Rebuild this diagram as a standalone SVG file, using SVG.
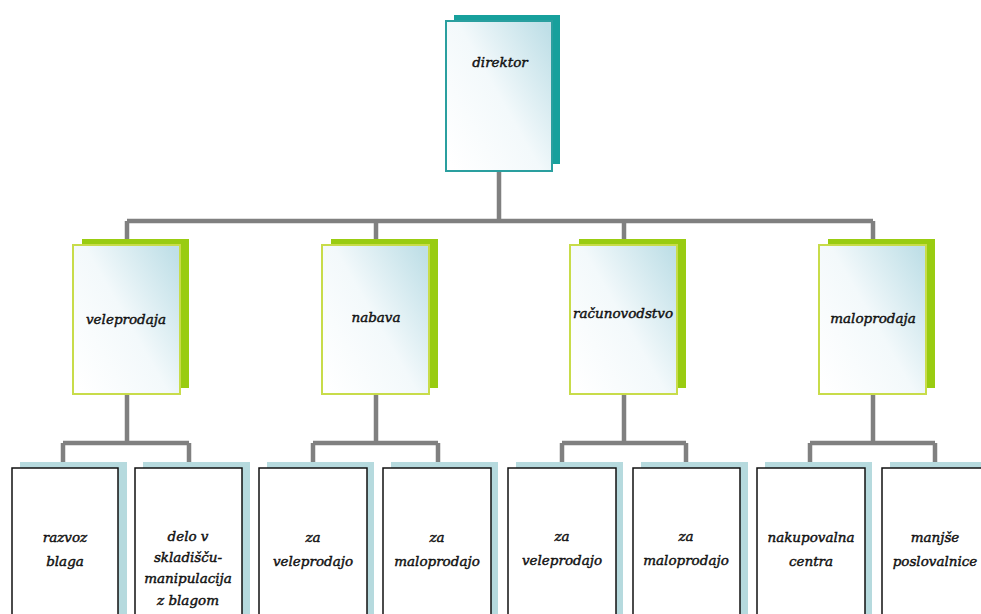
<svg xmlns="http://www.w3.org/2000/svg" width="981" height="614" viewBox="0 0 981 614">
<defs>
<linearGradient id="g" x1="0" y1="0.9" x2="1" y2="0.1">
<stop offset="0" stop-color="#ffffff"/>
<stop offset="0.5" stop-color="#f3f9fb"/>
<stop offset="1" stop-color="#bfdfe7"/>
</linearGradient>
</defs>
<style>
.t{font-family:'DejaVu Serif','Liberation Serif',serif;font-style:italic;font-size:13.5px;fill:#111111;text-anchor:middle;stroke:#111111;stroke-width:0.45}
.c{stroke:#808080;stroke-width:4.5;fill:none}
.ts{fill:#17a09c}
.tf{fill:url(#g);stroke:#2a9f9f;stroke-width:2}
.gs{fill:#99cc11}
.gf{fill:url(#g);stroke:#c8dc4a;stroke-width:2}
.ls{fill:#b6dade}
.lf{fill:#ffffff;stroke:#111111;stroke-width:1.5}
</style>
<rect width="981" height="614" fill="#ffffff"/>
<g id="connectors">
<path class="c" d="M499 170V221M127 221H873M127 221V245M376 221V245M624 221V245M873 221V245"/>
<path class="c" d="M127 393V443M63 443H189M63 443V464M189 443V464"/>
<path class="c" d="M376 393V443M313 443H438M313 443V464M438 443V464"/>
<path class="c" d="M624 393V443M562 443H686M562 443V464M686 443V464"/>
<path class="c" d="M873 393V443M810 443H935M810 443V464M935 443V464"/>
</g>
<g id="direktor">
<rect class="ts" x="454" y="15" width="106" height="149"/>
<rect class="tf" x="446" y="21" width="106" height="150"/>
<text class="t" x="500" y="67">direktor</text>
</g>
<g id="veleprodaja">
<rect class="gs" x="82" y="239" width="107" height="149"/>
<rect class="gf" x="73" y="245" width="107" height="149"/>
<text class="t" x="126" y="324">veleprodaja</text>
</g>
<g id="nabava">
<rect class="gs" x="331" y="239" width="107" height="149"/>
<rect class="gf" x="322" y="245" width="107" height="149"/>
<text class="t" x="376" y="322">nabava</text>
</g>
<g id="racunovodstvo">
<rect class="gs" x="579" y="239" width="107" height="149"/>
<rect class="gf" x="570" y="245" width="107" height="149"/>
<text class="t" x="623" y="318">računovodstvo</text>
</g>
<g id="maloprodaja">
<rect class="gs" x="828" y="239" width="107" height="149"/>
<rect class="gf" x="819" y="245" width="107" height="149"/>
<text class="t" x="873" y="323">maloprodaja</text>
</g>
<g id="razvoz">
<rect class="ls" x="20" y="462" width="107" height="160"/>
<rect class="lf" x="12" y="468" width="106" height="160"/>
<text class="t" x="65" y="542">razvoz</text>
<text class="t" x="65" y="566">blaga</text>
</g>
<g id="delo">
<rect class="ls" x="143" y="462" width="107" height="160"/>
<rect class="lf" x="135" y="468" width="107" height="160"/>
<text class="t" x="188" y="541">delo v</text>
<text class="t" x="188" y="562">skladišču-</text>
<text class="t" x="188" y="583">manipulacija</text>
<text class="t" x="188" y="605">z blagom</text>
</g>
<g id="nab-vele">
<rect class="ls" x="267" y="462" width="107" height="160"/>
<rect class="lf" x="259" y="468" width="108" height="160"/>
<text class="t" x="313" y="542">za</text>
<text class="t" x="313" y="566">veleprodajo</text>
</g>
<g id="nab-malo">
<rect class="ls" x="391" y="462" width="107" height="160"/>
<rect class="lf" x="383" y="468" width="108" height="160"/>
<text class="t" x="437" y="542">za</text>
<text class="t" x="437" y="566">maloprodajo</text>
</g>
<g id="rac-vele">
<rect class="ls" x="516" y="462" width="107" height="160"/>
<rect class="lf" x="508" y="468" width="108" height="160"/>
<text class="t" x="562" y="541">za</text>
<text class="t" x="562" y="565">veleprodajo</text>
</g>
<g id="rac-malo">
<rect class="ls" x="641" y="462" width="107" height="160"/>
<rect class="lf" x="633" y="468" width="107" height="160"/>
<text class="t" x="686" y="541">za</text>
<text class="t" x="686" y="565">maloprodajo</text>
</g>
<g id="nakupovalna">
<rect class="ls" x="765" y="462" width="107" height="160"/>
<rect class="lf" x="757" y="468" width="108" height="160"/>
<text class="t" x="811" y="542">nakupovalna</text>
<text class="t" x="811" y="566">centra</text>
</g>
<g id="manjse">
<rect class="ls" x="890" y="462" width="107" height="160"/>
<rect class="lf" x="882" y="468" width="108" height="160"/>
<text class="t" x="935" y="542">manjše</text>
<text class="t" x="935" y="566">poslovalnice</text>
</g>
</svg>
